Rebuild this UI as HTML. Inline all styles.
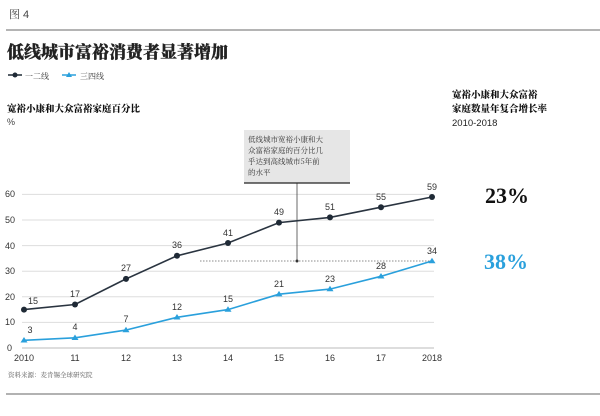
<!DOCTYPE html>
<html><head><meta charset="utf-8"><style>
body{margin:0;background:#fff;}
svg text{font-family:"Liberation Sans","Noto Serif CJK SC",sans-serif;}
svg text.ser{font-family:"Liberation Serif",serif;}
svg text.cjk{font-family:"Noto Serif CJK SC",serif;}
</style></head><body>
<svg width="600" height="411" viewBox="0 0 600 411" xmlns="http://www.w3.org/2000/svg">
<rect width="600" height="411" fill="#fff"/>
<text x="9" y="18" font-size="11" fill="#444">图 4</text>
<line x1="6" y1="30" x2="600" y2="30" stroke="#888" stroke-width="1.2"/>
<text class="cjk" x="7" y="58" font-size="17" font-weight="900" fill="#222" stroke="#222" stroke-width="0.3">低线城市富裕消费者显著增加</text>
<line x1="8" y1="75" x2="22" y2="75" stroke="#1f2a36" stroke-width="1.5"/><circle cx="15" cy="75" r="2.5" fill="#1f2a36"/>
<text class="cjk" x="25" y="79" font-size="8" fill="#333">一二线</text>
<line x1="62" y1="75" x2="76" y2="75" stroke="#2aa0dc" stroke-width="1.5"/><path d="M69 72 L72 77 L66 77Z" fill="#2aa0dc"/>
<text class="cjk" x="80" y="79" font-size="8" fill="#333">三四线</text>
<text class="cjk" x="7" y="112" font-size="9.5" font-weight="900" fill="#111">宽裕小康和大众富裕家庭百分比</text>
<text x="7" y="125" font-size="9" fill="#444">%</text>
<text class="cjk" x="452" y="98" font-size="9.5" font-weight="900" fill="#111">宽裕小康和大众富裕</text>
<text class="cjk" x="452" y="112" font-size="9.5" font-weight="900" fill="#111">家庭数量年复合增长率</text>
<text x="452" y="126" font-size="9.5" fill="#222">2010-2018</text>
<g stroke="#ddd" stroke-width="1">
<line x1="22" y1="322.4" x2="434" y2="322.4"/><line x1="22" y1="296.8" x2="434" y2="296.8"/><line x1="22" y1="271.2" x2="434" y2="271.2"/><line x1="22" y1="245.6" x2="434" y2="245.6"/><line x1="22" y1="220" x2="434" y2="220"/><line x1="22" y1="194.4" x2="434" y2="194.4"/>
</g>
<line x1="22" y1="348" x2="434" y2="348" stroke="#bbb"/>
<g font-size="9" fill="#333">
<text x="7" y="351">0</text><text x="5" y="325">10</text><text x="5" y="300">20</text><text x="5" y="274">30</text><text x="5" y="249">40</text><text x="5" y="223">50</text><text x="5" y="197">60</text>
</g>
<g font-size="9" fill="#333" text-anchor="middle">
<text x="24" y="361">2010</text><text x="75" y="361">11</text><text x="126" y="361">12</text><text x="177" y="361">13</text><text x="228" y="361">14</text><text x="279" y="361">15</text><text x="330" y="361">16</text><text x="381" y="361">17</text><text x="432" y="361">2018</text>
</g>
<line x1="200" y1="261" x2="432" y2="261" stroke="#666" stroke-dasharray="1.5,1.5" stroke-width="0.8"/>
<line x1="297" y1="183" x2="297" y2="261" stroke="#444" stroke-width="0.8"/><circle cx="297" cy="261" r="1.5" fill="#333"/>
<rect x="244" y="130" width="106" height="53" fill="#e6e6e6"/>
<line x1="244" y1="183" x2="350" y2="183" stroke="#222" stroke-width="1.2"/>
<g font-size="7.5" fill="#333">
<text class="cjk" x="248" y="142">低线城市宽裕小康和大</text><text class="cjk" x="248" y="153">众富裕家庭的百分比几</text><text class="cjk" x="248" y="164">乎达到高线城市5年前</text><text class="cjk" x="248" y="175">的水平</text>
</g>
<polyline fill="none" stroke="#2a3440" stroke-width="1.6" points="24,309.6 75,304.5 126,278.9 177,255.8 228,243 279,222.6 330,217.4 381,207.2 432,197"/>
<g fill="#1f2a36"><circle cx="24" cy="309.6" r="3"/><circle cx="75" cy="304.5" r="3"/><circle cx="126" cy="278.9" r="3"/><circle cx="177" cy="255.8" r="3"/><circle cx="228" cy="243" r="3"/><circle cx="279" cy="222.6" r="3"/><circle cx="330" cy="217.4" r="3"/><circle cx="381" cy="207.2" r="3"/><circle cx="432" cy="197" r="3"/></g>
<polyline fill="none" stroke="#2aa0dc" stroke-width="1.6" points="24,340.3 75,337.8 126,330.1 177,317.3 228,309.6 279,294.2 330,289.1 381,276.3 432,261"/>
<g fill="#2aa0dc">
<path d="M24 337l3.5 5.5h-7z"/><path d="M75 334.5l3.5 5.5h-7z"/><path d="M126 326.8l3.5 5.5h-7z"/><path d="M177 314l3.5 5.5h-7z"/><path d="M228 306.3l3.5 5.5h-7z"/><path d="M279 290.9l3.5 5.5h-7z"/><path d="M330 285.8l3.5 5.5h-7z"/><path d="M381 273l3.5 5.5h-7z"/><path d="M432 257.7l3.5 5.5h-7z"/>
</g>
<g font-size="9" fill="#333" text-anchor="middle">
<text x="33" y="304">15</text><text x="75" y="297">17</text><text x="126" y="271">27</text><text x="177" y="248">36</text><text x="228" y="236">41</text><text x="279" y="215">49</text><text x="330" y="210">51</text><text x="381" y="200">55</text><text x="432" y="190">59</text>
<text x="30" y="333">3</text><text x="75" y="330">4</text><text x="126" y="322">7</text><text x="177" y="310">12</text><text x="228" y="302">15</text><text x="279" y="287">21</text><text x="330" y="282">23</text><text x="381" y="269">28</text><text x="432" y="254">34</text>
</g>
<text class="ser" x="485" y="203" font-size="22" font-weight="bold" fill="#111">23%</text>
<text class="ser" x="484" y="269" font-size="22" font-weight="bold" fill="#2aa0dc">38%</text>
<text class="cjk" x="8" y="377" font-size="6.5" fill="#555">资料来源：麦肯锡全球研究院</text>
<line x1="6" y1="394" x2="600" y2="394" stroke="#999" stroke-width="1.5"/>
</svg>
</body></html>
